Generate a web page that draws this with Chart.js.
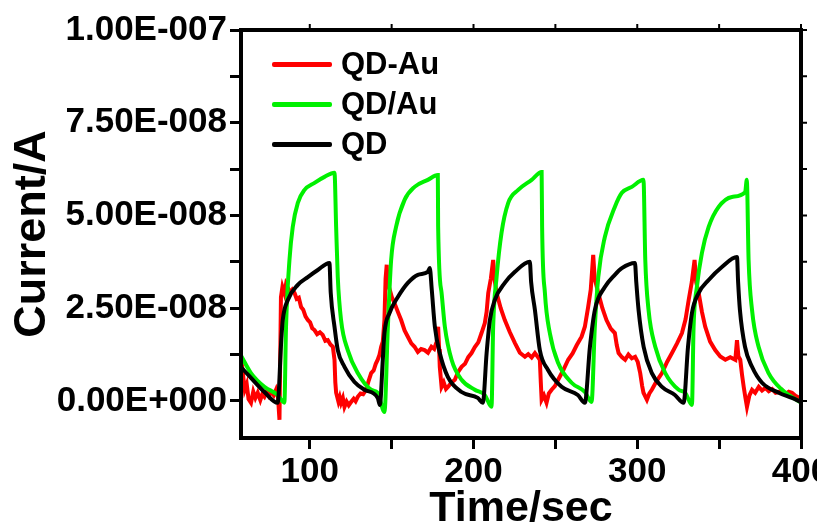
<!DOCTYPE html>
<html>
<head>
<meta charset="utf-8">
<script src="https://cdn.jsdelivr.net/npm/chart.js@4.4.1/dist/chart.umd.min.js"></script>
<style>
  html, body { margin: 0; padding: 0; background: #fff; overflow: hidden; }
  #wrap { position: relative; width: 860px; height: 531px; }
  #legend { position: absolute; left: 272px; top: 44px; font: bold 31px "Liberation Sans", Arial, sans-serif; color: #000; }
  #legend .row { display: flex; align-items: center; height: 40px; }
  #legend .swatch { width: 60px; height: 5px; margin-right: 9px; border-radius: 2px; }
</style>
</head>
<body>
<div id="wrap">
  <canvas id="chart" width="860" height="531"></canvas>
  <div id="legend"></div>
</div>
<script>
// QD-Au (red)
const qdAuTime = [57.9, 59.0, 60.3, 61.5, 62.6, 64.1, 65.5, 66.8, 68.2, 69.8, 71.0, 72.3, 73.8, 75.0, 76.4, 78.0, 79.4, 80.6, 81.5,
  82.4, 83.3, 84.5, 85.5, 86.6, 88.0, 89.3, 90.7, 92.0, 93.3, 94.7, 96.0, 97.4, 98.8, 100.2, 101.5, 102.9, 104.5, 106.2, 107.9, 109.5, 111.0, 112.6, 114.1,
  115.1, 115.6, 116.1, 117.5, 118.3, 119.1, 120.2, 121.2, 122.5, 123.8, 125.2, 126.8, 128.0, 129.3, 131.0, 132.6, 134.4, 136.0, 137.5, 139.0, 140.3, 141.5, 142.6, 143.6, 144.6,
  145.6, 146.3, 147.0, 147.6, 148.5, 150.1, 151.7, 153.8, 155.8, 157.9, 159.9, 162.0, 164.0, 166.0, 168.0, 170.1, 172.2, 174.3, 176.0, 177.5, 178.4, 179.0,
  179.4, 180.5, 181.8, 183.2, 184.5, 186.6, 188.6, 190.6, 192.7, 194.8, 196.8, 198.8, 200.8, 202.9, 204.9, 206.9, 208.0, 209.0, 210.6, 212.0, 212.8, 214.1,
  216.6, 219.1, 222.2, 225.3, 228.3, 231.4, 233.4, 235.5, 237.5, 239.0, 240.5, 241.1, 241.6, 243.0, 244.6, 246.0, 247.7, 249.7, 251.7, 254.7, 257.8,
  260.5, 263.0, 266.0, 268.0, 270.0, 271.6, 273.1, 274.0, 276.2, 278.7, 281.2, 283.8, 286.3, 287.5, 288.6, 290.6, 292.6, 294.6, 296.7, 298.7, 300.3,
  301.8, 303.0, 303.8, 305.9, 307.4, 308.9, 312.0, 315.1, 318.2, 321.2, 324.3, 327.3, 329.5, 331.4, 333.3, 335.0, 336.0, 337.5, 339.5, 341.5, 344.5,
  347.6, 350.7, 353.8, 356.8, 359.9, 360.9, 361.8, 362.9, 364.0, 365.0, 366.0, 367.0, 368.5, 370.1, 372.0, 374.2, 376.2, 378.2, 380.3, 382.4, 384.5,
  386.4, 388.4, 390.5, 392.5, 394.5, 396.6, 398.2, 400.0];
const qdAuCurrent = [6.5e-9, 8.0e-9, 3.0e-9, 4.5e-9, 0.5e-9, -0.5e-9, 2.5e-9, 0.8e-9, 2.2e-9, 0.2e-9, 1.8e-9, 1.1e-9, 2.6e-9, 1.4e-9, 2.4e-9, 1.5e-9, 3.0e-9, 1.0e-9, -5.1e-9,
  28.0e-9, 30.7e-9, 29.0e-9, 31.5e-9, 30.5e-9, 29.2e-9, 30.0e-9, 29.1e-9, 27.5e-9, 27.8e-9, 25.3e-9, 24.6e-9, 22.8e-9, 21.8e-9, 21.2e-9, 19.6e-9, 19.1e-9, 18.0e-9, 18.5e-9, 17.8e-9, 16.2e-9, 16.4e-9, 15.2e-9, 14.6e-9,
  11.1e-9, 5.0e-9, 2.2e-9, -0.2e-9, 1.0e-9, -0.5e-9, 0.8e-9, -1.6e-9, -0.2e-9, -1.2e-9, -0.3e-9, 0.6e-9, -0.1e-9, 1.1e-9, 2.0e-9, 1.8e-9, 3.0e-9, 5.5e-9, 7.5e-9, 8.2e-9, 10.0e-9, 11.1e-9, 12.5e-9, 14.6e-9, 16.0e-9,
  21.8e-9, 33.0e-9, 36.7e-9, 31.0e-9, 30.5e-9, 28.0e-9, 26.4e-9, 24.0e-9, 21.8e-9, 19.0e-9, 17.3e-9, 15.5e-9, 14.6e-9, 13.2e-9, 14.0e-9, 13.7e-9, 13.0e-9, 14.6e-9, 14.0e-9, 16.0e-9, 20.0e-9, 14.0e-9,
  9.2e-9, 3.8e-9, 5.0e-9, 3.2e-9, 3.8e-9, 5.0e-9, 5.7e-9, 7.8e-9, 9.2e-9, 10.0e-9, 11.8e-9, 12.9e-9, 14.5e-9, 15.8e-9, 18.3e-9, 21.0e-9, 24.0e-9, 29.1e-9, 33.0e-9, 38.0e-9, 33.0e-9, 29.1e-9,
  25.0e-9, 21.8e-9, 18.5e-9, 15.6e-9, 13.0e-9, 11.9e-9, 12.6e-9, 11.7e-9, 12.9e-9, 12.0e-9, 11.1e-9, 5.0e-9, 0.3e-9, 1.5e-9, -0.5e-9, 2.0e-9, 3.0e-9, 4.0e-9, 5.7e-9, 8.2e-9, 11.1e-9,
  12.8e-9, 15.0e-9, 17.3e-9, 20.0e-9, 25.3e-9, 30.0e-9, 39.4e-9, 33.0e-9, 29.1e-9, 25.0e-9, 21.8e-9, 19.5e-9, 18.3e-9, 15.0e-9, 12.9e-9, 11.8e-9, 11.1e-9, 12.5e-9, 11.5e-9, 11.9e-9, 10.5e-9,
  7.5e-9, 4.0e-9, 2.2e-9, 0.3e-9, 2.0e-9, 3.0e-9, 5.5e-9, 7.5e-9, 10.5e-9, 12.9e-9, 15.5e-9, 18.3e-9, 22.0e-9, 27.2e-9, 32.0e-9, 38.0e-9, 32.0e-9, 29.1e-9, 24.0e-9, 20.0e-9, 16.0e-9,
  13.7e-9, 12.0e-9, 11.1e-9, 11.8e-9, 11.1e-9, 16.4e-9, 12.0e-9, 11.1e-9, 7.0e-9, 3.8e-9, 1.0e-9, -1.6e-9, 1.5e-9, 3.0e-9, 2.2e-9, 3.8e-9, 2.8e-9, 3.5e-9, 2.6e-9, 3.2e-9, 2.2e-9,
  2.4e-9, 2.9e-9, 1.8e-9, 2.5e-9, 2.2e-9, 1.4e-9, 1.0e-9, 0.3e-9];

// QD/Au (green)
const qdSlashAuTime = [57.8, 64.1, 72.3, 80.4, 84.5,
  85.5, 87.6, 89.6, 92.7, 96.8, 102.9, 109.0, 115.1,
  116.1, 117.1, 119.1, 123.2, 129.3, 137.5, 141.5, 145.6,
  147.7, 149.7, 152.7, 157.9, 164.0, 172.1, 178.2,
  178.4, 180.5, 182.5, 186.6, 192.7, 200.8, 206.9, 211.0,
  212.0, 214.1, 217.1, 221.2, 227.3, 235.5, 241.6,
  241.9, 243.6, 246.6, 251.7, 259.9, 268.0, 272.1,
  274.1, 276.2, 280.2, 286.3, 290.6, 296.7, 303.8,
  304.9, 306.9, 311.0, 317.1, 325.3, 329.3, 333.4,
  334.4, 336.4, 339.5, 343.6, 349.7, 357.8, 365.9, 366.9,
  368.0, 370.1, 374.1, 380.2, 388.4, 400.0];
const qdSlashAuCurrent = [12.4e-9, 7.5e-9, 3.8e-9, 1.6e-9, -0.5e-9,
  20.0e-9, 38.0e-9, 46.9e-9, 53.4e-9, 56.9e-9, 58.8e-9, 60.4e-9, 61.5e-9,
  46.9e-9, 33.4e-9, 21.8e-9, 13.7e-9, 7.5e-9, 3.0e-9, 2.2e-9, -3.0e-9,
  20.0e-9, 38.0e-9, 46.9e-9, 54.2e-9, 57.7e-9, 59.6e-9, 60.9e-9,
  46.9e-9, 29.1e-9, 20.0e-9, 11.1e-9, 5.7e-9, 3.0e-9, 1.6e-9, -1.6e-9,
  20.0e-9, 33.4e-9, 45.3e-9, 53.4e-9, 56.9e-9, 59.6e-9, 61.7e-9,
  46.9e-9, 29.1e-9, 18.3e-9, 10.2e-9, 4.9e-9, 2.4e-9, -0.3e-9,
  20.0e-9, 33.4e-9, 44.2e-9, 52.3e-9, 56.1e-9, 57.7e-9, 59.6e-9,
  38.0e-9, 24.5e-9, 14.6e-9, 7.5e-9, 3.0e-9, 2.2e-9, -1.1e-9,
  20.0e-9, 30.7e-9, 39.9e-9, 46.9e-9, 52.3e-9, 55.0e-9, 56.3e-9, 59.6e-9,
  38.0e-9, 24.5e-9, 14.6e-9, 7.5e-9, 3.0e-9, -0.5e-9];

// QD (black)
const qdTime = [57.8, 64.1, 72.3, 80.4,
  82.6, 83.5, 86.6, 92.7, 98.8, 104.9, 112.0,
  112.8, 115.1, 117.1, 121.2, 127.3, 133.4, 141.5, 142.8,
  144.6, 145.6, 148.7, 153.8, 159.9, 166.0, 172.1, 173.3,
  174.5, 176.4, 179.4, 184.3, 192.7, 202.6, 205.7,
  208.0, 210.0, 213.0, 219.1, 225.3, 234.4,
  235.2, 237.5, 240.5, 245.4, 253.8, 263.7, 268.0,
  271.1, 274.1, 280.2, 286.3, 290.6, 298.6,
  299.4, 300.8, 303.9, 308.9, 315.1, 323.0, 328.3,
  331.0, 333.4, 337.5, 343.6, 351.7, 360.9,
  361.6, 362.7, 365.8, 370.1, 376.2, 386.4, 394.5, 400.0];
const qdCurrent = [9.2e-9, 6.2e-9, 2.4e-9, -0.5e-9,
  16.4e-9, 21.8e-9, 27.2e-9, 31.3e-9, 33.4e-9, 35.3e-9, 37.2e-9,
  29.1e-9, 20.0e-9, 13.7e-9, 9.2e-9, 5.1e-9, 3.0e-9, 0.8e-9, -1.1e-9,
  11.1e-9, 18.3e-9, 23.7e-9, 28.0e-9, 31.8e-9, 34.0e-9, 34.8e-9, 35.8e-9,
  30.0e-9, 20.0e-9, 12.9e-9, 6.5e-9, 2.4e-9, 0.8e-9, -0.5e-9,
  12.9e-9, 21.8e-9, 27.2e-9, 31.8e-9, 34.8e-9, 37.5e-9,
  32.0e-9, 24.5e-9, 13.7e-9, 8.4e-9, 3.8e-9, 1.6e-9, -0.5e-9,
  14.6e-9, 24.5e-9, 30.7e-9, 34.0e-9, 35.8e-9, 37.2e-9,
  32.0e-9, 24.5e-9, 14.6e-9, 7.5e-9, 3.8e-9, 1.6e-9, -0.5e-9,
  14.6e-9, 23.7e-9, 29.1e-9, 32.6e-9, 36.1e-9, 38.8e-9,
  32.0e-9, 24.5e-9, 14.6e-9, 9.2e-9, 4.9e-9, 2.2e-9, 0.8e-9, -0.3e-9];

const seriesNames = ['QD-Au', 'QD/Au', 'QD'];
const seriesColors = ['#ff0000', '#00f000', '#000000'];

const xTicksLabeled = [100, 200, 300, 400];
const yTicksLabeled = [0, 2.5e-8, 5e-8, 7.5e-8, 1e-7];

const FONT = '"Liberation Sans", Arial, sans-serif';

function pts(xs, ys) {
  return xs.map((x, i) => ({ x: x, y: ys[i] }));
}

function sci(v) {
  if (Math.abs(v) < 1e-20) return '0.00E+000';
  let e = Math.floor(Math.log10(Math.abs(v)));
  let m = v / Math.pow(10, e);
  if (Math.abs(m) >= 9.995) { m /= 10; e += 1; }
  const sign = e < 0 ? '-' : '+';
  return m.toFixed(2) + 'E' + sign + String(Math.abs(e)).padStart(3, '0');
}

// box frame + mirror ticks on top / right
const framePlugin = {
  id: 'frame',
  afterDraw(chart) {
    const { ctx, chartArea: a, scales } = chart;
    ctx.save();
    ctx.strokeStyle = '#000';
    ctx.lineWidth = 4;
    ctx.strokeRect(a.left, a.top, a.right - a.left, a.bottom - a.top);
    ctx.lineWidth = 2;
    ctx.beginPath();
    scales.x.ticks.forEach(t => {
      const px = scales.x.getPixelForValue(t.value);
      ctx.moveTo(px, a.top);
      ctx.lineTo(px, a.top - 6);
    });
    scales.y.ticks.forEach(t => {
      const py = scales.y.getPixelForValue(t.value);
      ctx.moveTo(a.right, py);
      ctx.lineTo(a.right + 6, py);
    });
    ctx.stroke();
    ctx.restore();
  }
};

const datasets = [
  { label: seriesNames[0], data: pts(qdAuTime, qdAuCurrent), borderColor: seriesColors[0], order: 3 },
  { label: seriesNames[1], data: pts(qdSlashAuTime, qdSlashAuCurrent), borderColor: seriesColors[1], order: 2, cubicInterpolationMode: 'monotone' },
  { label: seriesNames[2], data: pts(qdTime, qdCurrent), borderColor: seriesColors[2], order: 1, cubicInterpolationMode: 'monotone' }
].map(d => Object.assign({ borderWidth: 4, pointRadius: 0, fill: false }, d));

new Chart(document.getElementById('chart'), {
  type: 'line',
  data: { datasets: datasets },
  options: {
    responsive: false,
    animation: false,
    layout: { padding: { left: 0, top: 30, right: 59, bottom: 0 } },
    plugins: { legend: { display: false }, tooltip: { enabled: false } },
    scales: {
      x: {
        type: 'linear',
        min: 58,
        max: 400,
        border: { display: false },
        grid: { drawOnChartArea: false, drawTicks: true, tickLength: 11, tickWidth: 3, tickColor: '#000' },
        ticks: {
          stepSize: 50,
          includeBounds: false,
          maxRotation: 0,
          autoSkip: false,
          padding: 2,
          color: '#000',
          font: { family: FONT, size: 35, weight: 'bold' },
          callback: v => xTicksLabeled.includes(v) ? String(v) : ''
        },
        title: {
          display: true,
          text: 'Time/sec',
          color: '#000',
          font: { family: FONT, size: 43, weight: 'bold', lineHeight: 1 },
          padding: { top: 0, bottom: 0 }
        },
        afterFit: s => { s.height = 93; }
      },
      y: {
        min: -1e-8,
        max: 1e-7,
        border: { display: false },
        grid: { drawOnChartArea: false, drawTicks: true, tickLength: 11, tickWidth: 3, tickColor: '#000' },
        ticks: {
          stepSize: 1.25e-8,
          includeBounds: false,
          autoSkip: false,
          padding: 3,
          color: '#000',
          font: { family: FONT, size: 35, weight: 'bold' },
          callback: v => yTicksLabeled.some(t => Math.abs(t - v) < 1e-12) ? sci(v) : ''
        },
        title: {
          display: true,
          text: 'Current/A',
          color: '#000',
          font: { family: FONT, size: 45, weight: 'bold', lineHeight: 1 },
          padding: { top: 10, bottom: 0 }
        },
        afterFit: s => { s.width = 241; }
      }
    }
  },
  plugins: [framePlugin]
});

// legend inside the plot
const legend = document.getElementById('legend');
seriesNames.forEach((name, i) => {
  const row = document.createElement('div');
  row.className = 'row';
  const sw = document.createElement('span');
  sw.className = 'swatch';
  sw.style.background = seriesColors[i];
  const tx = document.createElement('span');
  tx.textContent = name;
  row.appendChild(sw);
  row.appendChild(tx);
  legend.appendChild(row);
});
</script>
</body>
</html>
